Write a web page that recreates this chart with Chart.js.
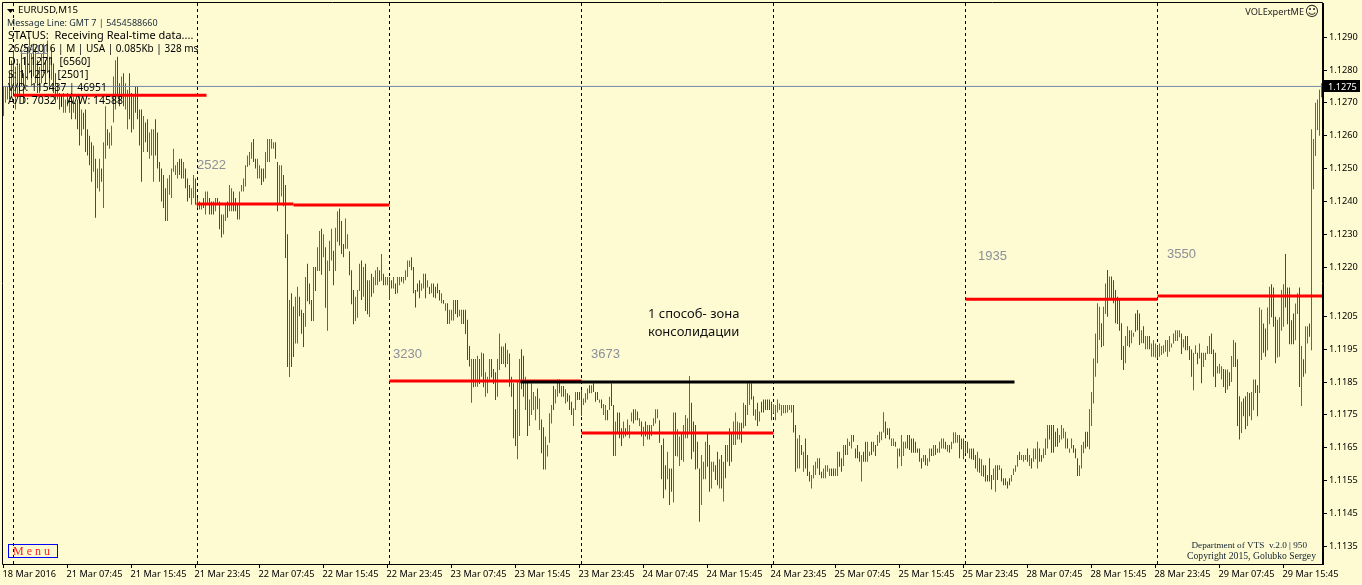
<!DOCTYPE html>
<html>
<head>
<meta charset="utf-8">
<title>EURUSD,M15</title>
<script src="https://cdn.jsdelivr.net/npm/chart.js@4"></script>
<style>
html, body { margin: 0; padding: 0; background: #FEFBD2; overflow: hidden; }
canvas { display: block; }
</style>
</head>
<body>
<canvas id="chart" width="1362" height="585"></canvas>
<script>
// prices are kept in pips above 1.1000 (275 = 1.1275)
const BASE = 1.1;

const timeLabels = ['18 Mar 2016', '21 Mar 07:45', '21 Mar 15:45', '21 Mar 23:45', '22 Mar 07:45', '22 Mar 15:45', '22 Mar 23:45',
  '23 Mar 07:45', '23 Mar 15:45', '23 Mar 23:45', '24 Mar 07:45', '24 Mar 15:45', '24 Mar 23:45', '25 Mar 07:45',
  '25 Mar 15:45', '25 Mar 23:45', '28 Mar 07:45', '28 Mar 15:45', '28 Mar 23:45', '29 Mar 07:45', '29 Mar 15:45'];
const priceTicks = [290, 280, 270, 260, 250, 240, 230, 220, 205, 195, 185, 175, 165, 155, 145, 135];
const currentPrice = 275;

// bar index of each day separator
const daySeparators = [5, 97, 193, 289, 385, 481, 577];

const highs = [
  275,275,275,279,283,286,281,283,282,286,279,284,
  287,290,285,288,287,283,281,285,288,283,289,284,
  287,282,279,276,273,272,273,271,273,271,273,272,
  270,271,272,268,267,268,262,260,258,257,253,250,
  253,250,258,269,262,261,263,278,283,284,276,278,
  279,276,274,279,273,272,275,275,268,268,266,264,
  265,261,262,262,265,261,252,250,248,244,247,248,
  250,256,251,252,253,253,252,250,247,245,244,248,

  247,241,240,239.5,241,243,243,241,240,240,241,241,
  240,236,236,239,240,245,244,243,241,239,243,245,
  247,251,254,255,258,259,253,253,251,250,250,255,
  259,259,259,258,258,252,251,251,248,245,230,210,
  212,208,211,214,211,207,206,217,221,215,210,220,
  220,226,231,231.7,230,226,222,228,231.7,225,232,237,
  237.8,234,227,234.8,230,224.8,219,213,211,213,221,222,
  220,221,216,216,218,217,219,220,219,224,218,217,

  217,217,216,217,215,217,217,217,217,219,222,222,
  223,220,213,215,216,215,218,218,216,214,215,215,
  214,215,213,212,210,209,209,207,207,210,210,210,
  207,207,207,207,204,196,192,192,192,193,192,194,
  193.7,188,186.6,192,192,189,188,192,199.8,195.8,195.8,196.8,
  194.8,193.7,186.6,184.6,176.7,185,192,195,193,186.6,185.6,179.7,
  184.6,182,180.7,183,180,173.6,171.2,168.4,165.8,175.5,178,183.8,
  182.8,185.8,185.8,183.8,183.8,182.8,181.6,181,179,177,182,182,

  182,182.6,180,181.6,183,184,184,184.6,182,182,179.7,179.7,
  178.3,178,176.5,180.5,184.6,178,173,175.7,175.7,170.9,173,170.9,
  173.6,171.9,175.7,176.7,176.7,176,174,173,171.4,173,171.9,171.9,
  171.9,174,176.7,176.7,173.4,165.8,167.8,159.7,163.8,158.7,158.7,175.7,
  175.7,170.6,168.4,169.6,171.9,175,174,186.8,178.7,173,171.9,166.8,
  158.7,162.8,160.7,166.8,169.6,165.8,160.7,160.7,159.7,163.8,161.5,162.8,
  160.7,165.8,165.8,170.9,169.6,173,175.7,173,172.6,172.6,178.7,178,
  184.6,184.6,184.6,180.7,176.7,178.7,176,179,179.7,179.7,179.7,179.7,

  179,178.2,178,179.7,178.5,178,178,178,178,178,178,178,
  171.9,167.8,168.9,165.8,163.8,167.8,162.8,157.7,156.7,159.7,160.7,161.8,
  161.8,157.7,158.7,159.7,159.7,158.7,158.7,158.7,158.7,163.8,163.8,161.8,
  165.8,165.8,167.8,166.8,168.9,168.9,164.8,165.8,163.8,162.8,163.8,166.8,
  166.8,163.8,166.8,166.8,165.8,168.9,169.9,169.9,175.8,173,170.9,170.9,
  167.8,167.8,166.8,164.8,164.8,168.9,166.8,166.8,168.9,168.9,167.8,167.8,
  166.8,164.8,164.8,161.8,162.8,162.8,161.8,164.8,164.8,165.8,165.8,164.8,
  166.8,167.8,167.8,166.8,165.8,165.8,166.8,169.7,169.7,168.9,168.9,167.8,

  167.8,166.8,166.8,164.8,164.8,164.8,162.8,163.8,161.8,161.5,159.7,159.7,
  156.7,161.8,156.7,158.7,159.7,159.7,159.7,158.7,155.7,155.7,154.7,155.7,
  156.7,158.7,159.7,162.8,163.8,162.8,162.8,162.8,164.8,162.8,161.8,164.8,
  164.8,166.8,164.8,162.8,164.8,167.8,171.9,171.9,171.9,171.9,169.9,170.9,
  168.9,171.9,170.9,169.9,167.8,164.8,167.8,165.8,164.8,161.8,159.7,165.8,
  166.8,169.9,169.9,176.8,182,192.2,199.8,209,207.9,202.9,207.9,215,
  219.1,217.1,217.1,216,213,211,210,202.9,196,199,202,200.8,
  200.8,200,205.9,206.9,205.9,200.8,202,199,199,199,196.7,197.8,

  196.7,196.2,196.7,196,196.2,197.8,197.8,199,196.7,199.8,200.8,200.8,
  200.8,199.8,198,199,199,196,194.9,193.9,196.2,193.9,196.7,193.9,
  193.9,193.9,196,199,199.8,194.9,193.9,189.8,190.6,189.8,189,188.8,
  188.8,188,192.9,197.8,197,191.9,180.7,179,180,180.7,182,181.7,
  182,185.8,185.8,184,207.7,207,202.8,201.3,207.7,214,214.8,213.8,
  204.9,204,204.7,213,214.8,224,213.8,213.8,203.8,205.9,208.9,212,
  213.8,196,191.9,202,202,202.8,262,259,270,271,274,276
];

const lows = [
  266,270,271,271,272,273,268,272,272,275,270,274,
  277,279,275,278,276,273,273,276,279,276,279,274,
  277,273,270,271,268,269,267,267,269,267,265,267,
  265,262,257,260,262,255,254,251,246,249,235,244,
  243,246,238,253,257,256,257,264,268,272,269,271,
  269,268,262,265,261,262,267,265,257,246,255,258,
  255,253,254,246,254,250,246,240,238,234,234,242,
  241,249,248,247,248,247,247,244,240,241,239,241,

  239,238,237.5,237.5,238,236,239,236,236,236,237,239,
  231.5,229,230,234,235,237,237,237,237,234.5,234.5,243,
  243,244.5,250.5,251,253,252,250,247,247,245,246,247,
  252,252,256,256,253,237,239.5,241.5,238.5,222.8,189.6,186.5,
  189.6,192.6,196.7,196.7,205,199.7,195.7,201.8,209.6,208.7,203.6,203.6,
  212.7,218.8,218.8,217.7,223,207.6,200.6,218.8,222,214.5,218.8,227.7,
  226.6,224,223,225.6,225.6,217.5,208.7,202.6,203.6,204.6,212.7,210,
  211,206.6,205.6,204.8,211,212,214.5,214.5,215.5,215.8,214.5,214.5,

  214.5,210,213.5,213.5,211.8,212,214.5,215.5,215,216,217,220,
  219,212,207.7,212.5,210.5,212.8,213.5,210.5,213.8,211.8,212,210.8,
  210.5,212,209.8,209,208.8,206.7,202.7,202.7,203.7,203.7,205.7,204.7,
  205,202.7,202.7,199.6,191.7,189.7,178.7,183.4,183.6,183.6,184.4,186.6,
  183.4,180.5,181.6,185,186.4,184.4,179.5,180.5,188.7,190.5,190.5,189.5,
  190.5,183.6,180.5,167.9,165.5,161.5,168.6,182.8,180.5,176.5,168.6,171.6,
  175,176.5,173.4,176.7,170.4,163.3,158.4,158.4,162.3,166.5,172.4,176.5,
  178.5,180.5,181.6,180.5,180.5,178.5,179,176.5,175,171.6,176.5,179.5,

  179.5,174.7,178,178.7,179.7,181.6,181.6,182,179,179.5,178.7,177,
  175,173.4,173.4,176.5,177.7,162.5,162.5,169.6,167.9,165.5,167.9,168.4,
  168.9,167.9,173,172.4,173.4,173.4,171.6,168.4,165.5,168.4,167.5,167.5,
  168.6,171.6,172.4,174,166.5,155.4,149.6,152.3,155.4,147.6,151.6,148.3,
  162.5,162.3,159.4,161.3,160.7,167.9,167.9,169.9,161.5,163.8,158.4,158.7,
  142.5,147.6,155.4,155.4,159.2,151.6,152.6,157.7,155.2,153.6,152.6,152.6,
  148.6,155.7,160.7,159.4,160.7,165.8,165.8,167.5,167.5,166.5,170.9,171.6,
  175,178,179.7,174.7,173.4,171.6,173,175.7,175.7,176.5,176.5,176.5,

  173.4,175.5,173.4,175.7,176.5,174.7,175.5,175.5,175.7,176.5,175.7,169.6,
  157.7,158.7,158.7,162.8,157.7,158.7,156.4,154.7,152.6,155.7,156.7,158.7,
  156.7,155.7,155.7,155.7,157.7,156.4,156.4,156.4,156.4,156.4,159.2,157.7,
  159.4,162.8,162.8,165.5,164.8,166.8,161.8,161.8,160.7,154.7,160.7,160.7,
  160.7,162.5,162.8,163.8,162.5,165.5,166.5,167.3,169.6,167.9,168.9,167.5,
  165.5,165.5,165.3,158.7,162.3,159.4,162.5,164.8,164.8,164.3,163.5,163.5,
  163.5,163.5,160.7,158.7,160.7,159.7,159.4,160.7,162.5,162.5,162.8,163.5,
  163.5,164.8,164.8,164.5,163.8,163.5,164.5,166.3,166.5,166.5,161.8,164.5,

  161.5,163.5,163.3,161.8,161.5,161.3,158.7,157.7,157.4,156.4,156.2,154.7,
  154.7,154.7,152.3,155.2,151.6,155.2,158.2,154.7,153.6,153.6,152.6,153.6,
  154.7,156.7,157.7,159.2,161.3,161.3,160.7,161.3,160.7,159.4,158.7,160.7,
  161.5,158.7,160.7,160.7,161.8,162.8,164.8,167.5,163.5,163.5,165.3,165.3,
  166.5,167.5,167.9,164.8,164.8,163.5,164.8,163.5,161.8,156.4,156.4,158.7,
  163.3,164.8,165.3,164.5,171.6,178.5,186.6,190.7,197.8,195.6,196,205.7,
  204.9,210,210,209,202.9,202.7,200.6,191.7,188.7,190.7,196,195.6,
  196.8,198.8,200.3,200.8,196.3,196.8,196.8,195,195,195,192.7,192.7,

  192.5,192.2,192.7,193.2,193.7,194.2,192.7,194.2,195.5,196.7,197.5,197.5,
  198.6,193.5,195.5,194.7,194.7,191.7,186.6,182.5,193.5,190.4,192.2,184.6,
  189.6,191.7,193.5,193.5,193.5,186.6,183.5,187.6,187.6,185.8,183.5,181.7,
  182.7,183.8,185,189.6,189.6,171.6,167.5,169.5,174.6,170.6,171.6,174.6,
  173.4,176.4,181.7,174.6,181.7,191.7,193.9,192.7,194.7,202.6,204.7,201.8,
  190.7,192.5,192.7,200.6,201.8,207.7,202.6,196.5,196.5,196.5,197.7,205.7,
  183.5,177.7,186.6,187.6,196.7,198.8,194.7,243.7,253.8,261.7,260,271.7
];

// r = bar closed down, g = bar closed up
const barDirs = [
  'gggrgrggrrrg', 'rggrgrgggrgr', 'grrgrgggrgrg', 'rrrgrrrrrgrg', 'grggrggggrrg', 'rggrrgrrrrgr', 'rgggrrrrrrgg', 'ggggrrgrrrgg',
  'rrrgrggrrrgr', 'rrggrggrrrgg', 'gggggrrggrrg', 'ggggrrggrrrg', 'rrggrrrgrrrg', 'rggrgrgggrgg', 'rrrggrrrgggr', 'grrgrgggrgrg',
  'grrgrggrgggg', 'rrrrrggrgrgr', 'rrrgrgrgggrr', 'ggrrrrgrggrg', 'rgggrrrggrgr', 'grrrrggrrgrg', 'gggrgrrggggr', 'ggrgrgrrrggr',
  'rrgggrgrrrgr', 'ggrgrrgrrrgr', 'gggrgrgrgrgr', 'ggggrrrrgrrg', 'rggrggggrrrr', 'rgggrrggrrgr', 'grgrrggggrgr', 'ggrrgrgrrrrr',
  'rggggggggggr', 'rggrgrrrgggg', 'rrggggrrggrr', 'grgggrrrrgrr', 'ggrgrggggrrr', 'ggrgrgggrrrr', 'rrrrgrggrgrg', 'gggrgrggggrr',
  'rrrgrrrgrgrr', 'rrrggrgrrrrr', 'ggggrgggrgrg', 'ggrrgggrrrrr', 'ggggrggrrrgg', 'grrggggggrgg', 'rgrrrrrrrggr', 'ggrrrgrggrgg',
  'grgggggggggg', 'grgrrrrggrgr', 'ggggrrrgggrr', 'grggrrrgrrgr', 'ggrrggrrggrr', 'rggggrrrrrgg', 'rgrggrgggggg'
].join('');

// drawn levels: from bar, to bar, price
const redLevels = [
  [5, 101.5, 272.3],
  [96.5, 145, 239.2],
  [145, 193, 238.9],
  [193, 289, 185.3],
  [289, 385, 169.5],
  [481, 577, 210.2],
  [577, 659.5, 211.2]
];
const blackLevel = [258.5, 505.5, 185];

const Y_MAX = 300.4;
const Y_MIN = 129.6;
const RED = '#F40000';
const GREEN = '#38861F';
const UI_FONT = '"Noto Sans", sans-serif';
const toPrice = (pips) => BASE + pips / 10000;

const bars = highs.map((h, i) => ({ x: i, y: [toPrice(lows[i]), toPrice(h)] }));

function levelLine(level, color, width, order) {
  return {
    type: 'line',
    data: [{ x: level[0], y: toPrice(level[2]) }, { x: level[1], y: toPrice(level[2]) }],
    borderColor: color,
    borderWidth: width,
    pointRadius: 0,
    order: order
  };
}

const datasets = [{
  type: 'bar',
  data: bars,
  backgroundColor: highs.map((_, i) => (barDirs[i] === 'r' ? RED : GREEN)),
  barThickness: 1,
  inflateAmount: 0,
  order: 5
}];

daySeparators.forEach((x) => {
  datasets.push({
    type: 'line',
    data: [{ x: x, y: toPrice(Y_MIN) }, { x: x, y: toPrice(Y_MAX) }],
    borderColor: '#000',
    borderWidth: 1,
    borderDash: [3, 3],
    pointRadius: 0,
    order: 6
  });
});
datasets.push(levelLine([-0.25, 659.75, currentPrice], '#7088A8', 1, 4));
redLevels.forEach((l) => datasets.push(levelLine(l, '#FF0000', 3, 2)));
datasets.push(levelLine(blackLevel, '#000', 3, 1));

// text and small things the terminal puts on the chart
const overlay = {
  id: 'overlay',
  afterDraw(chart) {
    const ctx = chart.ctx;
    const area = chart.chartArea;
    const yScale = chart.scales.y;
    const text = (str, x, y, font, color, align) => {
      ctx.font = font;
      ctx.fillStyle = color;
      ctx.textAlign = align || 'left';
      ctx.textBaseline = 'middle';
      ctx.fillText(str, x, y);
    };

    ctx.save();
    // frame
    ctx.strokeStyle = '#000';
    ctx.lineWidth = 1;
    ctx.beginPath();
    ctx.moveTo(area.left - 0.5, area.bottom + 0.5);
    ctx.lineTo(area.left - 0.5, area.top - 0.5);
    ctx.lineTo(area.right - 0.5, area.top - 0.5);
    ctx.lineTo(area.right - 0.5, area.bottom + 0.5);
    ctx.lineTo(area.left - 0.5, area.bottom + 0.5);
    ctx.stroke();

    // current price tag
    const py = yScale.getPixelForValue(toPrice(currentPrice));
    ctx.fillStyle = '#000';
    ctx.fillRect(1324, Math.round(py) - 6, 36, 12);
    text(toPrice(currentPrice).toFixed(4), 1328, py + 0.5, '9.2px ' + UI_FONT, '#fff');

    // volume numbers
    const numFont = '13px "Liberation Sans", sans-serif';
    text('2522', 197, 165, numFont, '#8A8F9A');
    text('3230', 393, 354, numFont, '#8A8F9A');
    text('3673', 591, 354, numFont, '#8A8F9A');
    text('1935', 978, 256, numFont, '#8A8F9A');
    text('3550', 1167, 254, numFont, '#8A8F9A');
    text('2811', 20, 50, numFont, '#8A8F9A');

    // annotation
    const noteFont = '13px "Noto Sans", sans-serif';
    text('1 способ- зона', 648, 314, noteFont, '#111');
    text('консолидации', 648, 332, noteFont, '#111');

    // status block
    ctx.fillStyle = '#000';
    ctx.beginPath();
    ctx.moveTo(7, 9);
    ctx.lineTo(14, 9);
    ctx.lineTo(10.5, 13);
    ctx.fill();
    text('EURUSD,M15', 18, 10.5, '9.7px ' + UI_FONT, '#000');
    text('Message Line: GMT 7 | 5454588660', 7, 23.5, '9px ' + UI_FONT, '#1A2A3A');
    const statusLines = [
      ['STATUS:  Receiving Real-time data....', 11],
      ['26/5/2016 | M | USA | 0.085Kb | 328 ms', 10],
      ['D: 1.1271  [6560]', 10.5],
      ['S: 1.1271  [2501]', 10.5],
      ['V/D: 115437 | 46951', 10.3],
      ['A/D: 7032 | A/W: 14588', 10.5]
    ];
    statusLines.forEach((s, i) => text(s[0], 8, 36 + i * 13, s[1] + 'px ' + UI_FONT, '#000'));

    // top right
    text('VOLExpertME', 1304, 12, '9.2px ' + UI_FONT, '#222', 'right');
    text('☺', 1312, 12, '14px "DejaVu Sans", sans-serif', '#222', 'center');

    // bottom right
    text('Department of VTS  v.2.0 | 950', 1307, 546, '9.2px "Liberation Serif", serif', '#10202F', 'right');
    text('Copyright 2015, Golubko Sergey', 1316, 556, '9.7px "Liberation Serif", serif', '#10202F', 'right');

    // menu button
    ctx.strokeStyle = '#0000FF';
    ctx.strokeRect(8.5, 544.5, 49, 13);
    text('M e n u', 13, 552, '12px "Liberation Serif", serif', '#FF2020');
    ctx.restore();
  }
};

new Chart(document.getElementById('chart'), {
  type: 'bar',
  data: { datasets: datasets },
  plugins: [overlay],
  options: {
    responsive: false,
    animation: false,
    layout: { padding: { left: 3, top: 3, right: 0, bottom: 0 } },
    plugins: { legend: { display: false }, tooltip: { enabled: false } },
    scales: {
      x: {
        type: 'linear',
        offset: false,
        min: -0.25,
        max: 659.75,
        afterBuildTicks(scale) {
          scale.ticks = timeLabels.map((_, k) => ({ value: k * 32 }));
        },
        afterFit(scale) {
          scale.height = 21;
          scale.paddingLeft = 0;
          scale.paddingRight = 0;
        },
        grid: { offset: false, drawOnChartArea: false, color: '#000', tickLength: 4 },
        border: { color: '#000' },
        ticks: {
          autoSkip: false,
          maxRotation: 0,
          align: 'start',
          padding: 1,
          labelOffset: -1,
          color: '#000',
          font: { family: '"Noto Sans", sans-serif', size: 9.2 },
          callback: (value) => timeLabels[Math.round(value / 32)]
        }
      },
      y: {
        position: 'right',
        min: toPrice(Y_MIN),
        max: toPrice(Y_MAX),
        afterBuildTicks(scale) {
          scale.ticks = priceTicks.map((p) => ({ value: toPrice(p) }));
        },
        afterFit(scale) {
          scale.width = 39;
          scale.paddingTop = 0;
          scale.paddingBottom = 0;
        },
        grid: { drawOnChartArea: false, color: '#000', tickLength: 4 },
        border: { color: '#000' },
        ticks: {
          autoSkip: false,
          padding: 2,
          color: '#000',
          font: { family: '"Noto Sans", sans-serif', size: 9.2 },
          callback: (value) => value.toFixed(4)
        }
      }
    }
  }
});
</script>
</body>
</html>
